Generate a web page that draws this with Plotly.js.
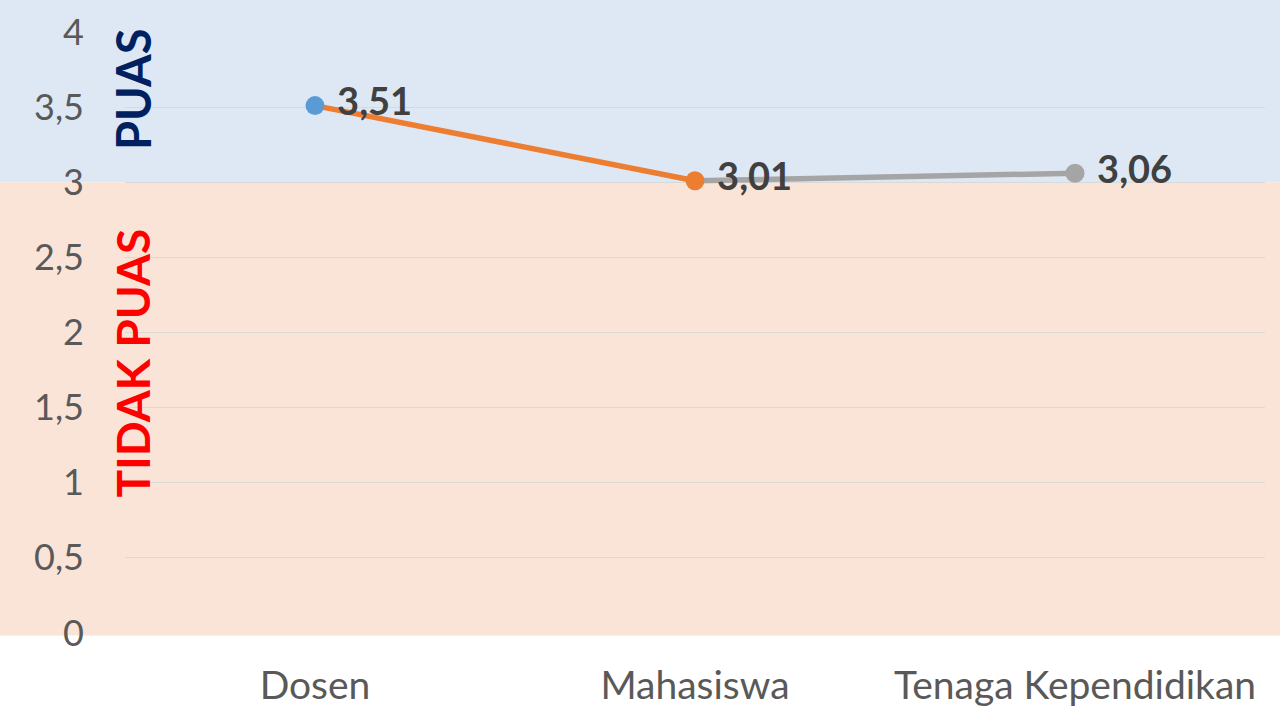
<!DOCTYPE html>
<html>
<head>
<meta charset="utf-8">
<script src="https://cdn.plot.ly/plotly-3.0.1.min.js"></script>
<style>html,body{margin:0;padding:0;background:#fff;}#chart{width:1280px;height:720px;}</style>
</head>
<body>
<div id="chart"></div>
<script>
const categories = ["Dosen", "Mahasiswa", "Tenaga Kependidikan"];
const values = [3.51, 3.01, 3.06];
const pointColors = ["#5B9BD5", "#ED7D31", "#A5A5A5"];
const yTicks = [0, 0.5, 1, 1.5, 2, 2.5, 3, 3.5, 4];
const threshold = 3;
const zoneLabels = ["PUAS", "TIDAK PUAS"];

const FONT = "Lato, 'Open Sans', sans-serif";

const traces = [];
// line segments, each coloured like its end point
for (let i = 1; i < categories.length; i++) {
  traces.push({
    x: [categories[i-1], categories[i]],
    y: [values[i-1], values[i]],
    mode: "lines",
    line: {color: pointColors[i], width: 5.5},
    hoverinfo: "skip",
    showlegend: false
  });
}
traces.push({
  x: categories,
  y: values,
  mode: "markers+text",
  marker: {color: pointColors, size: 19},
  texttemplate: " %{y:.2f}",
  textposition: "middle right",
  textfont: {family: FONT, size: 38, color: "#404040", weight: "bold"},
  cliponaxis: false,
  showlegend: false
});

const layout = {
  width: 1280, height: 720,
  margin: {l: 125, r: 15, t: 32, b: 87},
  paper_bgcolor: "#ffffff",
  plot_bgcolor: "rgba(0,0,0,0)",
  separators: ",.",
  showlegend: false,
  xaxis: {
    type: "category",
    range: [-0.5, 2.5],
    showgrid: false, zeroline: false, showline: false,
    ticks: "",
    ticklabelstandoff: 26,
    tickfont: {family: FONT, size: 39, color: "#595959"}
  },
  yaxis: {
    range: [0, 4],
    tickvals: yTicks,
    showgrid: true, gridcolor: "#D9D9D9", gridwidth: 1,
    zeroline: false, showline: false,
    ticks: "",
    ticklabelstandoff: 40,
    tickfont: {family: FONT, size: 36, color: "#595959"}
  },
  shapes: [
    {type: "rect", xref: "paper", yref: "paper", x0: -0.2, x1: 1.02,
     y0: threshold / 4, y1: 1.06, fillcolor: "#DEE8F5", line: {width: 0}, layer: "below"},
    {type: "rect", xref: "paper", yref: "paper", x0: -0.2, x1: 1.02,
     y0: -0.004, y1: threshold / 4, fillcolor: "#FAE4D7", line: {width: 0}, layer: "below"}
  ],
  annotations: [
    {text: zoneLabels[0], xref: "paper", yref: "y", x: 0.007, y: 3.62, textangle: -90,
     showarrow: false, xanchor: "center", yanchor: "middle",
     font: {family: FONT, size: 47, color: "#002060", weight: "bold"}},
    {text: zoneLabels[1], xref: "paper", yref: "y", x: 0.007, y: 1.80, textangle: -90,
     showarrow: false, xanchor: "center", yanchor: "middle",
     font: {family: FONT, size: 46, color: "#FF0000", weight: "bold"}}
  ]
};

Plotly.newPlot("chart", traces, layout, {displayModeBar: false, staticPlot: true});
</script>
</body>
</html>
